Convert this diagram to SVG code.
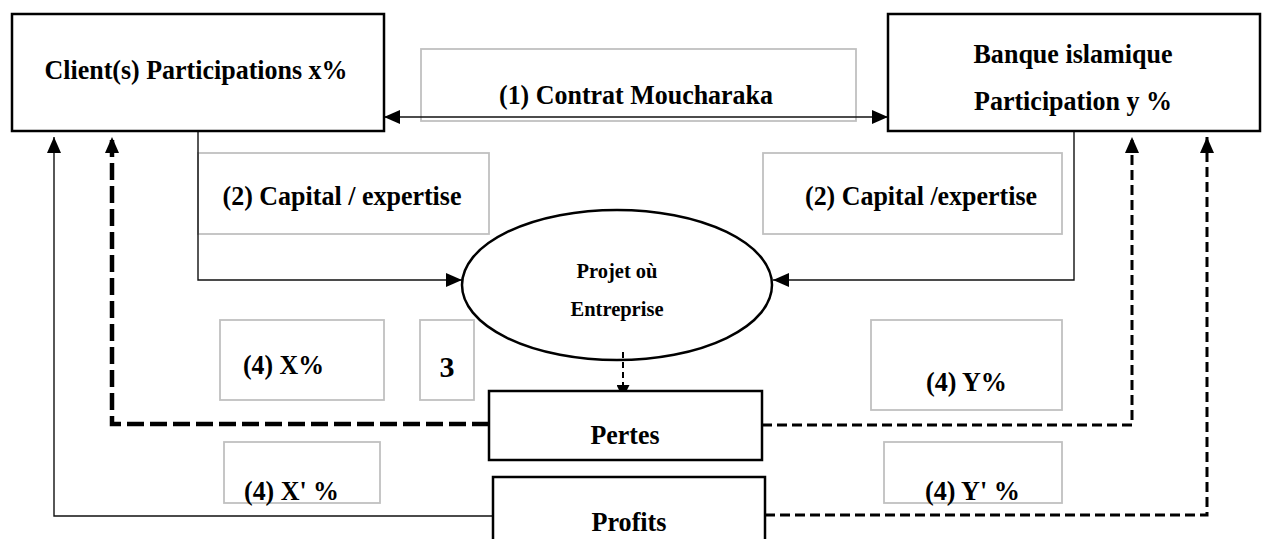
<svg xmlns="http://www.w3.org/2000/svg" width="1262" height="539" viewBox="0 0 1262 539">
  <style>
    text { font-family: "Liberation Serif", "Times New Roman", serif; font-weight: bold; fill: #000; }
    .t26 { font-size: 28px; }
    .t20 { font-size: 22px; }
    .mid { text-anchor: middle; }
    .node { fill: #fff; stroke: #000; stroke-width: 2.5; }
    .label { fill: #fff; stroke: #c0c0c0; stroke-width: 1.8; }
    .flow { fill: none; stroke: #111; stroke-width: 1.4; }
    .loss { fill: none; stroke: #000; stroke-width: 4.5; stroke-dasharray: 17 6; }
    .share { fill: none; stroke: #000; stroke-width: 3; stroke-dasharray: 10 5; }
    .drop { fill: none; stroke: #000; stroke-width: 2; stroke-dasharray: 6 4; }
  </style>
  <defs>
    <marker id="arrow" viewBox="0 0 16 14" markerWidth="16" markerHeight="14" refX="16" refY="7" orient="auto-start-reverse" markerUnits="userSpaceOnUse">
      <path d="M0,0 L16,7 L0,14 Z" fill="#000"/>
    </marker>
    <marker id="arrowSmall" viewBox="0 0 13 13" markerWidth="13" markerHeight="13" refX="13" refY="6.5" orient="auto" markerUnits="userSpaceOnUse">
      <path d="M0,0 L13,6.5 L0,13 Z" fill="#000"/>
    </marker>
  </defs>

  <rect width="1262" height="539" fill="#fff"/>

  <!-- grey label frames -->
  <g id="label-contrat">
    <rect class="label" x="421" y="49" width="435" height="72"/>
    <text class="t26 mid" x="636" y="104" textLength="274" lengthAdjust="spacingAndGlyphs">(1) Contrat Moucharaka</text>
  </g>
  <g id="label-capital-left">
    <rect class="label" x="198" y="153" width="291" height="81"/>
    <text class="t26 mid" x="342" y="205" textLength="239" lengthAdjust="spacingAndGlyphs">(2) Capital / expertise</text>
  </g>
  <g id="label-capital-right">
    <rect class="label" x="763" y="153" width="299" height="81"/>
    <text class="t26 mid" x="921" y="205" textLength="232" lengthAdjust="spacingAndGlyphs">(2) Capital /expertise</text>
  </g>
  <g id="label-x">
    <rect class="label" x="220" y="320" width="164" height="80"/>
    <text class="t26" x="243" y="374" textLength="81" lengthAdjust="spacingAndGlyphs">(4) X%</text>
  </g>
  <g id="label-3">
    <rect class="label" x="420" y="320" width="54" height="80"/>
    <text class="mid" style="font-size:30px" x="447" y="377">3</text>
  </g>
  <g id="label-y">
    <rect class="label" x="871" y="320" width="191" height="90"/>
    <text class="t26" x="926" y="391" textLength="81" lengthAdjust="spacingAndGlyphs">(4) Y%</text>
  </g>
  <g id="label-x-prime">
    <rect class="label" x="224" y="442" width="156" height="61"/>
    <text class="t26" x="244" y="500" textLength="95" lengthAdjust="spacingAndGlyphs">(4) X' %</text>
  </g>
  <g id="label-y-prime">
    <rect class="label" x="884" y="442" width="178" height="61"/>
    <text class="t26" x="925" y="500" textLength="95" lengthAdjust="spacingAndGlyphs">(4) Y' %</text>
  </g>

  <!-- connectors -->
  <g id="connectors">
    <path class="flow" d="M384,117 H888" marker-start="url(#arrow)" marker-end="url(#arrow)"/>
    <path class="flow" d="M198,131 V280 H462" marker-end="url(#arrow)"/>
    <path class="flow" d="M1074,131 V280 H773" marker-end="url(#arrow)"/>
    <path class="flow" d="M493,516 H54 V137" marker-end="url(#arrow)"/>
    <path class="loss" d="M489,424 H112 V137" marker-end="url(#arrow)"/>
    <path class="share" d="M762,425 H1132 V137" marker-end="url(#arrow)"/>
    <path class="share" d="M765,515 H1207 V137" marker-end="url(#arrow)"/>
    <path class="drop" d="M623,352 V398" marker-end="url(#arrowSmall)"/>
  </g>

  <!-- parties -->
  <g id="client">
    <rect class="node" x="12" y="14" width="372" height="117"/>
    <text class="t26 mid" x="196" y="79" textLength="303" lengthAdjust="spacingAndGlyphs">Client(s) Participations x%</text>
  </g>
  <g id="banque">
    <rect class="node" x="888" y="14" width="372" height="117"/>
    <text class="t26 mid" x="1073" y="63" textLength="199" lengthAdjust="spacingAndGlyphs">Banque islamique</text>
    <text class="t26 mid" x="1073" y="110" textLength="198" lengthAdjust="spacingAndGlyphs">Participation y %</text>
  </g>
  <g id="projet">
    <ellipse class="node" cx="617" cy="285" rx="155" ry="75" style="fill:none"/>
    <text class="t20 mid" x="617" y="278" textLength="81" lengthAdjust="spacingAndGlyphs">Projet où</text>
    <text class="t20 mid" x="617" y="316" textLength="93" lengthAdjust="spacingAndGlyphs">Entreprise</text>
  </g>
  <g id="pertes">
    <rect class="node" x="489" y="391" width="273" height="69"/>
    <text class="t26 mid" x="625" y="444" textLength="69" lengthAdjust="spacingAndGlyphs">Pertes</text>
  </g>
  <g id="profits">
    <rect class="node" x="493" y="477" width="272" height="70"/>
    <text class="t26 mid" x="629" y="531" textLength="75" lengthAdjust="spacingAndGlyphs">Profits</text>
  </g>
</svg>
